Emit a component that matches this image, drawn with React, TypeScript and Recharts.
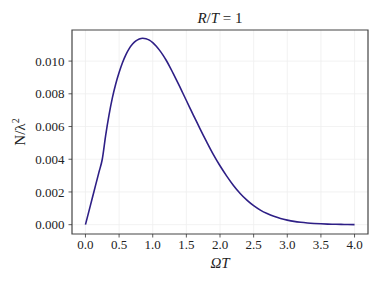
import React from 'react';
import { LineChart, Line, XAxis, YAxis, CartesianGrid, ReferenceArea } from 'recharts';

const omegaT = [0, 0.05, 0.1, 0.15, 0.2, 0.25, 0.3, 0.35, 0.4, 0.45, 0.5, 0.55, 0.6, 0.65, 0.7, 0.75, 0.8, 0.85, 0.9, 0.95, 1.0, 1.05, 1.1, 1.15, 1.2, 1.25, 1.3, 1.35, 1.4, 1.45, 1.5, 1.55, 1.6, 1.65, 1.7, 1.75, 1.8, 1.9, 2.0, 2.1, 2.2, 2.3, 2.4, 2.5, 2.6, 2.7, 2.8, 2.9, 3.0, 3.1, 3.2, 3.3, 3.4, 3.5, 3.6, 3.7, 3.8, 3.9, 4.0];
const nOverLambda2 = [0, 0.0008, 0.0016, 0.0024, 0.0032, 0.004, 0.00545, 0.0067, 0.00775, 0.0086, 0.0093, 0.0099, 0.01038, 0.01076, 0.01104, 0.01123, 0.01135, 0.0114, 0.01137, 0.01128, 0.01113, 0.01092, 0.01067, 0.01038, 0.01005, 0.00968, 0.00928, 0.00887, 0.00845, 0.00802, 0.00759, 0.00716, 0.00673, 0.00631, 0.00589, 0.00548, 0.00508, 0.0043, 0.0036, 0.00297, 0.0024, 0.00191, 0.0015, 0.00116, 0.00089, 0.00068, 0.00051, 0.00038, 0.00028, 0.0002, 0.000145, 0.000105, 0.000075, 0.000052, 0.000036, 0.000024, 0.000016, 0.00001, 0.000006];
const xTicks = [0, 0.5, 1.0, 1.5, 2.0, 2.5, 3.0, 3.5, 4.0];
const yTicks = [0, 0.002, 0.004, 0.006, 0.008, 0.01];

const data = omegaT.map((x, i) => ({ x, y: nOverLambda2[i] }));

const X_DOMAIN: [number, number] = [-0.2, 4.2];
const Y_DOMAIN: [number, number] = [-0.00057, 0.0119];

const font = '"Liberation Serif", "DejaVu Serif", serif';
const tickStyle = { fontFamily: font, fontSize: 13, fill: '#222' };

export default function App() {
  return (
    <div style={{ position: 'absolute', left: 0, top: 0, width: 380, height: 285, background: '#fff' }}>
      <LineChart width={380} height={285} data={data} margin={{ top: 30, right: 12, bottom: 0, left: 0 }}>
        <CartesianGrid stroke="#efefef" strokeWidth={0.8} horizontalValues={yTicks} verticalValues={xTicks} />
        <XAxis
          dataKey="x"
          type="number"
          domain={X_DOMAIN}
          ticks={xTicks}
          tickFormatter={(v: number) => v.toFixed(1)}
          height={51}
          axisLine={false}
          tickLine={{ stroke: '#333', strokeWidth: 0.8 }}
          tickSize={3.5}
          tickMargin={2}
          tick={tickStyle}
          interval={0}
          allowDataOverflow
        />
        <YAxis
          type="number"
          domain={Y_DOMAIN}
          ticks={yTicks}
          tickFormatter={(v: number) => v.toFixed(3)}
          width={72}
          axisLine={false}
          tickLine={{ stroke: '#333', strokeWidth: 0.8 }}
          tickSize={3.5}
          tickMargin={4}
          tick={tickStyle}
          interval={0}
          allowDataOverflow
        />
        <ReferenceArea x1={X_DOMAIN[0]} x2={X_DOMAIN[1]} y1={Y_DOMAIN[0]} y2={Y_DOMAIN[1]} stroke="#444" strokeWidth={1.2} fill="none" fillOpacity={0} />
        <Line dataKey="y" type="monotone" stroke="#2e1f86" strokeWidth={1.6} dot={false} isAnimationActive={false} />
      </LineChart>
      <div style={{ position: 'absolute', left: 0, width: 440, top: 9, textAlign: 'center', fontFamily: font, fontSize: 15, color: '#222', lineHeight: '18px' }}>
        <i>R</i>/<i>T</i> = 1
      </div>
      <div style={{ position: 'absolute', left: 0, width: 440, top: 254, textAlign: 'center', fontFamily: font, fontSize: 15, color: '#222', lineHeight: '18px' }}>
        <i>Ω</i><i>T</i>
      </div>
      <div style={{ position: 'absolute', left: 18, top: 132, width: 0, height: 0 }}>
        <div style={{ position: 'absolute', transform: 'translate(-50%, -50%) rotate(-90deg)', whiteSpace: 'nowrap', fontFamily: font, fontSize: 15, color: '#222', lineHeight: '18px' }}>
          N/λ<sup style={{ fontSize: 10 }}>2</sup>
        </div>
      </div>
    </div>
  );
}
